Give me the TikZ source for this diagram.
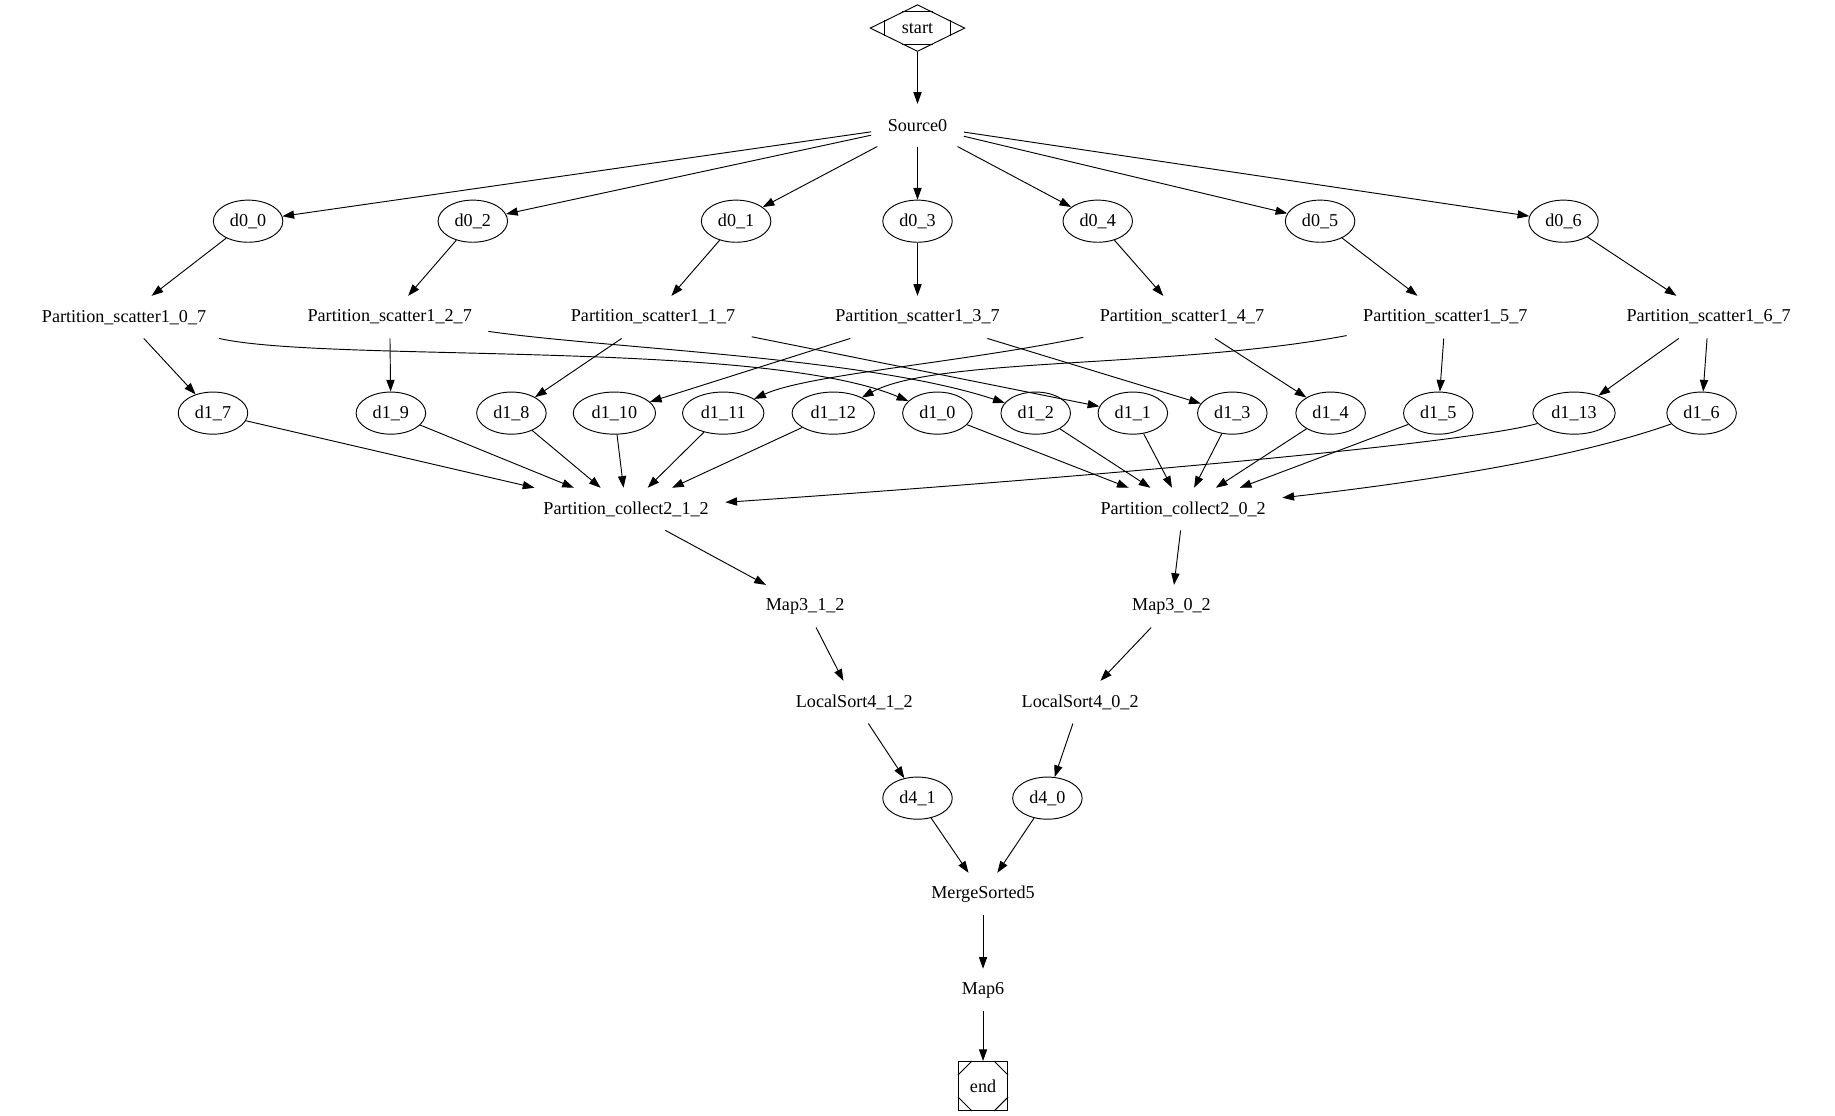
\documentclass[tikz,border=0pt]{standalone}
\usepackage{fontspec}
\setmainfont{Liberation Serif}
\usetikzlibrary{shapes.geometric,arrows.meta,calc}
\begin{document}
\begin{tikzpicture}[x=1pt,y=-1pt,
  every node/.style={font=\fontsize{15.5}{18}\selectfont},
  lbl/.style={rectangle, inner xsep=14pt, inner ysep=0pt, minimum height=36pt},
  ell/.style={ellipse, draw, line width=0.8pt, inner xsep=5.5pt, inner ysep=2pt, minimum height=36pt, minimum width=54pt},
  arr/.style={-{Triangle[length=10pt,width=7pt]}, line width=0.8pt},
  thin/.style={line width=0.8pt}
]
\fill[white] (0,0) rectangle (1568,953);
\useasboundingbox (0,0) rectangle (1568,953);

% start / end
\node[diamond, draw, thin, minimum width=81pt, minimum height=40pt, inner sep=1pt] (start) at (784,24) {start};
\draw[thin] ($(start.north)!0.32!(start.west)$) -- ($(start.north)!0.32!(start.east)$);
\draw[thin] ($(start.south)!0.32!(start.west)$) -- ($(start.south)!0.32!(start.east)$);
\draw[thin] ($(start.west)!0.32!(start.north)$) -- ($(start.west)!0.32!(start.south)$);
\draw[thin] ($(start.east)!0.32!(start.north)$) -- ($(start.east)!0.32!(start.south)$);

\node[lbl] (Source0) at (784,107) {Source0};

% d0 row
\node[ell] (d00) at (212,189) {d0\_0};
\node[ell] (d02) at (404,189) {d0\_2};
\node[ell] (d01) at (629,189) {d0\_1};
\node[ell] (d03) at (784,189) {d0\_3};
\node[ell] (d04) at (938,189) {d0\_4};
\node[ell] (d05) at (1128,189) {d0\_5};
\node[ell] (d06) at (1336,189) {d0\_6};

% scatter row
\node[lbl] (PS0) at (106,271) {Partition\_scatter1\_0\_7};
\node[lbl] (PS2) at (333,271) {Partition\_scatter1\_2\_7};
\node[lbl] (PS1) at (558,271) {Partition\_scatter1\_1\_7};
\node[lbl] (PS3) at (784,271) {Partition\_scatter1\_3\_7};
\node[lbl] (PS4) at (1010,271) {Partition\_scatter1\_4\_7};
\node[lbl] (PS5) at (1235,271) {Partition\_scatter1\_5\_7};
\node[lbl] (PS6) at (1460,271) {Partition\_scatter1\_6\_7};

% d1 row
\node[ell] (d17) at (182,353) {d1\_7};
\node[ell] (d19) at (334,353) {d1\_9};
\node[ell] (d18) at (437,353) {d1\_8};
\node[ell] (d110) at (525,353) {d1\_10};
\node[ell] (d111) at (618,353) {d1\_11};
\node[ell] (d112) at (712,353) {d1\_12};
\node[ell] (d10) at (801,353) {d1\_0};
\node[ell] (d12) at (885,353) {d1\_2};
\node[ell] (d11) at (968,353) {d1\_1};
\node[ell] (d13) at (1053,353) {d1\_3};
\node[ell] (d14) at (1137,353) {d1\_4};
\node[ell] (d15) at (1229,353) {d1\_5};
\node[ell] (d113) at (1345,353) {d1\_13};
\node[ell] (d16) at (1454,353) {d1\_6};

% collect row and below
\node[lbl] (PC1) at (535,435) {Partition\_collect2\_1\_2};
\node[lbl] (PC0) at (1011,435) {Partition\_collect2\_0\_2};
\node[lbl] (M1) at (688,518) {Map3\_1\_2};
\node[lbl] (M0) at (1001,518) {Map3\_0\_2};
\node[lbl] (LS1) at (730,600) {LocalSort4\_1\_2};
\node[lbl] (LS0) at (923,600) {LocalSort4\_0\_2};
\node[ell] (d41) at (784,682) {d4\_1};
\node[ell] (d40) at (895,682) {d4\_0};
\node[lbl] (MS) at (840,764) {MergeSorted5};
\node[lbl] (Map6) at (840,846) {Map6};

\node[rectangle, draw, thin, minimum size=42pt, inner sep=0pt] (endn) at (840,928) {end};
\draw[thin] ($(endn.north west)+(0,12)$) -- ($(endn.north west)+(12,0)$);
\draw[thin] ($(endn.north east)+(0,12)$) -- ($(endn.north east)+(-12,0)$);
\draw[thin] ($(endn.south west)+(0,-12)$) -- ($(endn.south west)+(12,0)$);
\draw[thin] ($(endn.south east)+(0,-12)$) -- ($(endn.south east)+(-12,0)$);

% edges top
\draw[arr] (start) -- (Source0);
\foreach \n in {d00,d02,d01,d03,d04,d05,d06} \draw[arr] (Source0) -- (\n);
\draw[arr] (d00) -- (PS0);
\draw[arr] (d02) -- (PS2);
\draw[arr] (d01) -- (PS1);
\draw[arr] (d03) -- (PS3);
\draw[arr] (d04) -- (PS4);
\draw[arr] (d05) -- (PS5);
\draw[arr] (d06) -- (PS6);

% scatter edges
\draw[arr] (PS0) -- (d17);
\draw[arr] (PS0) .. controls (280,310) and (650,290) .. (d10);
\draw[arr] (PS2) -- (d19);
\draw[arr] (PS2) .. controls (520,298) and (740,305) .. (d12);
\draw[arr] (PS1) -- (d18);
\draw[arr] (PS1) -- (d11);
\draw[arr] (PS3) -- (d110);
\draw[arr] (PS3) -- (d13);
\draw[arr] (PS4) .. controls (820,310) and (690,320) .. (d111);
\draw[arr] (PS4) -- (d14);
\draw[arr] (PS5) .. controls (1000,315) and (800,305) .. (d112);
\draw[arr] (PS5) -- (d15);
\draw[arr] (PS6) -- (d113);
\draw[arr] (PS6) -- (d16);

% collect edges
\foreach \n in {d17,d19,d18,d110,d111,d112} \draw[arr] (\n) -- (PC1);
\draw[arr] (d113) .. controls (1250,380) and (900,410) .. (PC1);
\foreach \n in {d10,d12,d11,d13,d14,d15} \draw[arr] (\n) -- (PC0);
\draw[arr] (d16) .. controls (1350,390) and (1230,410) .. (PC0);

% lower chain
\draw[arr] (PC1) -- (M1);
\draw[arr] (PC0) -- (M0);
\draw[arr] (M1) -- (LS1);
\draw[arr] (M0) -- (LS0);
\draw[arr] (LS1) -- (d41);
\draw[arr] (LS0) -- (d40);
\draw[arr] (d41) -- (MS);
\draw[arr] (d40) -- (MS);
\draw[arr] (MS) -- (Map6);
\draw[arr] (Map6) -- (endn);
\end{tikzpicture}
\end{document}
